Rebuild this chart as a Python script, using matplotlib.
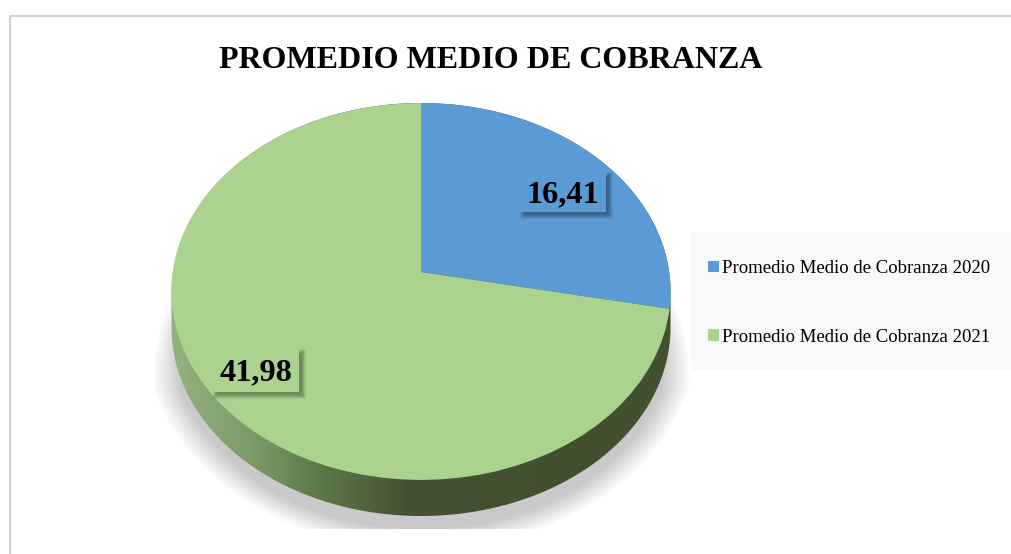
import numpy as np
import matplotlib
matplotlib.use("Agg")
import matplotlib.pyplot as plt
from matplotlib.colors import LinearSegmentedColormap
from matplotlib.patches import Polygon, Rectangle
from matplotlib.transforms import Transform

title = "PROMEDIO MEDIO DE COBRANZA"
labels = ["Promedio Medio de Cobranza 2020", "Promedio Medio de Cobranza 2021"]
values = [16.41, 41.98]
colors = ["#5b9bd5", "#abd28f"]

plt.rcParams["font.family"] = ["Liberation Serif", "DejaVu Serif"]


# tilts the flat pie so the centre sits above the middle of the ellipse
class Tilt(Transform):
    input_dims = 2
    output_dims = 2

    def transform_non_affine(self, xy):
        xy = np.asarray(xy)
        w = 0.1034 * xy[:, 1] + 1
        return np.column_stack([421 + 248.2 * xy[:, 0] / w, (272 - 158.3 * xy[:, 1]) / w])


fig = plt.figure(figsize=[10.11, 5.54], dpi=100)
ax = fig.add_axes([0, 0, 1, 1])

wedges, _ = ax.pie(values, colors=colors, startangle=90, counterclock=False, radius=1)
ax.set_aspect("auto")
ax.axis("off")
tilt = Tilt() + ax.transData
for w in wedges:
    w.set_transform(tilt)
    w.set_zorder(4)

# frame, only top and left show
ax.plot([9.5, 9.5, 1011], [554, 15.5, 15.5], color="#c9c9c9", lw=1.3, zorder=1)

# soft shadow under the pie
xx, yy = np.meshgrid(np.arange(0, 1011), np.arange(0, 554))
half = np.interp(yy, [103, 300, 390, 530], [235, 256, 277, 277])
r = np.sqrt(((xx - 421) / half) ** 2 + ((yy - 335) / 215.0) ** 2)
shade = np.clip((1 - r) / 0.1, 0, 1) * np.clip((yy - 170) / 120.0, 0, 1)
shade[yy > 528] = 0
rgba = np.zeros(xx.shape + (4,))
rgba[..., :3] = 0.72
rgba[..., 3] = shade * 0.75
ax.imshow(rgba, extent=[0, 1011, 554, 0], zorder=2, aspect="auto", interpolation="bilinear")

# side of the disc with the left to right gradient
t = np.linspace(0, 2 * np.pi, 400)
ox = 421 + 249.5 * np.cos(t)
oy = 291.5 + 188.5 * np.sin(t) + np.where(np.sin(t) > 0, 36, 0)
side = Polygon(np.column_stack([ox, oy]), closed=True, transform=ax.transData, fc="none", ec="none")
ax.add_patch(side)
side_cmap = LinearSegmentedColormap.from_list(
    "side",
    [(0, "#93b280"), (0.16, "#7d9b69"), (0.3, "#5d7848"), (0.47, "#445233"), (1, "#43502f")],
)
grad = ax.imshow(np.linspace(0, 1, 500).reshape(1, -1), extent=[171, 671, 554, 0], cmap=side_cmap,
                 zorder=3, aspect="auto")
grad.set_clip_path(side)

ax.set_xlim(0, 1011)
ax.set_ylim(554, 0)

ax.text(490.5, 60.5, title, fontsize=23, fontweight="bold", ha="center", va="center", color="black", zorder=8)

# data labels sit on boxes with a soft drop shadow
boxes = [(519, 171, 87, 41), (212, 348, 87, 44)]
for val, col, (bx, by, bw, bh) in zip(values, colors, boxes):
    for grow in [3, 2.2, 1.4, 0.6, -0.2, -1, -1.8]:
        ax.add_patch(Rectangle((bx + 4 - grow, by + 4 - grow), bw + 2 * grow, bh + 2 * grow,
                               fc="black", ec="none", alpha=0.06, zorder=5))
    ax.add_patch(Rectangle((bx, by), bw, bh, fc=col, ec="none", zorder=6))
    ax.text(bx + bw / 2, by + bh / 2 + 3, f"{val:.2f}".replace(".", ","), fontsize=23.2, fontweight="bold",
            ha="center", va="center", color="black", zorder=7)

# legend
ax.add_patch(Rectangle((691, 232), 320, 138, fc="#f8f8f8", ec="none", zorder=1))
ax.legend(wedges, labels, loc="center left", bbox_to_anchor=(691.5, 303), bbox_transform=ax.transData,
          frameon=False, fontsize=13.5, handlelength=0.55, handleheight=0.55, handletextpad=0.2,
          labelspacing=2.74, borderaxespad=0, borderpad=0.9)

plt.savefig("out.png", dpi=100)
